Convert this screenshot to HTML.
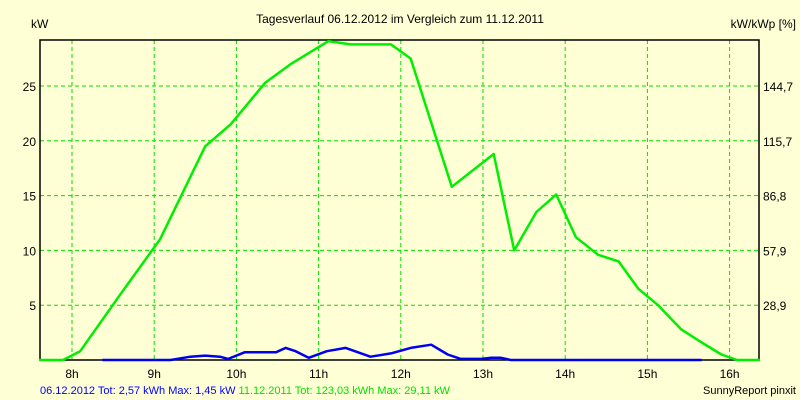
<!DOCTYPE html>
<html><head><meta charset="utf-8"><style>
body{margin:0;background:#ffffd6;}
svg{display:block;font-family:"Liberation Sans",sans-serif;}
</style></head><body>
<svg id="c" width="800" height="400">
<rect width="800" height="400" fill="#ffffd6"/>
<text x="400" y="23" font-size="12" text-anchor="middle">Tagesverlauf 06.12.2012 im Vergleich zum 11.12.2011</text>
<text x="31" y="28" font-size="12">kW</text>
<text x="796" y="28" font-size="12" text-anchor="end">kW/kWp [%]</text>
<g id="grid"></g>
<g id="axes"></g>
<g id="series"></g>
<text x="40" y="394" font-size="11"><tspan fill="#0000ff">06.12.2012 Tot: 2,57 kWh Max: 1,45 kW</tspan><tspan fill="#00e000"> 11.12.2011 Tot: 123,03 kWh Max: 29,11 kW</tspan></text>
<text x="796" y="394" font-size="11" text-anchor="end">SunnyReport pinxit</text>
</svg>
<script>
const hourTicks=[8,9,10,11,12,13,14,15,16];
const hourLabels=["8h","9h","10h","11h","12h","13h","14h","15h","16h"];
const leftTicks=[5,10,15,20,25];
const rightLabels=["28,9","57,9","86,8","115,7","144,7"];
const greenT=[7.6,7.89,8.1,8.59,9.07,9.62,9.93,10.35,10.66,11.12,11.39,11.88,12.12,12.62,13.13,13.38,13.65,13.89,14.13,14.4,14.65,14.89,15.13,15.41,15.66,15.9,16.09,16.37];
const greenV=[0,0,0.8,6,11,19.5,21.5,25.3,27,29.1,28.8,28.8,27.5,15.8,18.8,10,13.5,15.1,11.2,9.6,9,6.5,5,2.8,1.6,0.5,0,0];
const blueT=[8.37,9.2,9.44,9.62,9.8,9.9,10.1,10.27,10.48,10.6,10.72,10.88,11.1,11.33,11.63,11.88,12.12,12.37,12.57,12.73,12.98,13.1,13.22,13.34,15.66];
const blueV=[0,0,0.3,0.4,0.3,0.1,0.7,0.7,0.7,1.1,0.8,0.2,0.8,1.1,0.3,0.6,1.1,1.4,0.5,0.1,0.1,0.2,0.2,0,0];
const L=40,R=759,T=40,B=360;
const x=h=>72+(h-8)*82.2;
const y=v=>B-v*10.96;
const NS="http://www.w3.org/2000/svg";
function mk(tag,attrs,parent){const e=document.createElementNS(NS,tag);for(const k in attrs)e.setAttribute(k,attrs[k]);parent.appendChild(e);return e;}
const grid=document.getElementById('grid'),axes=document.getElementById('axes'),series=document.getElementById('series');
hourTicks.forEach((h,i)=>{
  const l=mk('line',{x1:x(h),x2:x(h),y1:T,y2:B,stroke:'#00e000','stroke-dasharray':'4,3'},grid);
  
  
  const t=mk('text',{x:x(h),y:B+18,'font-size':12,'text-anchor':'middle'},axes);
  t.textContent=hourLabels[i];
  
  
});
leftTicks.forEach((v,i)=>{
  const l=mk('line',{x1:L,x2:R,y1:y(v),y2:y(v),stroke:'#00e000','stroke-dasharray':'4,3'},grid);
  
  
  const t=mk('text',{x:L-4,y:y(v)+5,'font-size':12,'text-anchor':'end'},axes);
  t.textContent=v;
  
  
  const t2=mk('text',{x:R+4,y:y(v)+5,'font-size':12},axes);
  t2.textContent=rightLabels[i];
  
  
});
const fr=mk('path',{d:`M${L},${B}V${T}H${R}V${B}H${L}`,fill:'none',stroke:'#000','stroke-width':1.5},axes);


function line(ts,vs,col,name){
  const p=mk('polyline',{points:ts.map((t,i)=>x(t).toFixed(1)+','+y(vs[i]).toFixed(1)).join(' '),fill:'none',stroke:col,'stroke-width':2.5,'stroke-linejoin':'round'},series);
  
  
}
line(greenT,greenV,'#00ee00','series-2011-line');
line(blueT,blueV,'#0000ee','series-2012-line');
</script>
</body></html>
